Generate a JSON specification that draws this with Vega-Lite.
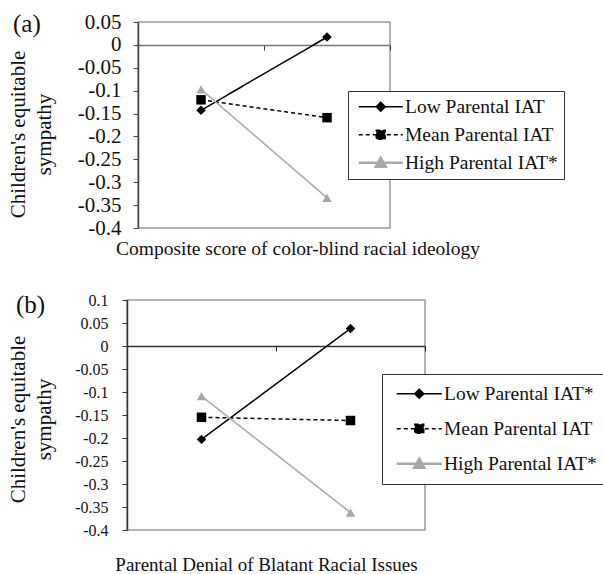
{
  "$schema": "https://vega.github.io/schema/vega-lite/v6.json",
  "padding": {"left": 5, "top": 10, "right": 0, "bottom": 0},
  "background": "white",
  "config": {
    "font": "Liberation Serif",
    "view": {"stroke": "#9a9a9a", "strokeWidth": 1.5},
    "axis": {"labelColor": "#111", "titleColor": "#111", "titleFontWeight": "normal", "grid": false, "labelFont": "Liberation Serif", "titleFont": "Liberation Serif"},
    "style": {"guide-label": {"font": "Liberation Serif"}, "guide-title": {"font": "Liberation Serif"}},
    "title": {"font": "Liberation Serif", "fontWeight": "normal", "color": "#111"}
  },
  "vconcat": [
    {"spacing": 0, "hconcat": [
    {"width": 1, "height": 1, "data": {"values": []}, "mark": {"type": "point", "opacity": 0}, "encoding": {}, "view": {"stroke": null}},
    {
      "title": {"text": "(a)", "fontSize": 25, "anchor": "start", "frame": "group", "dx": -125, "dy": 46, "offset": 0, "baseline": "alphabetic"},
      "width": 252,
      "height": 206,
      "data": {"values": [
        {"series": "Low Parental IAT", "level": "Low", "value": -0.143},
        {"series": "Low Parental IAT", "level": "High", "value": 0.017},
        {"series": "Mean Parental IAT", "level": "Low", "value": -0.12},
        {"series": "Mean Parental IAT", "level": "High", "value": -0.159},
        {"series": "High Parental IAT*", "level": "Low", "value": -0.097},
        {"series": "High Parental IAT*", "level": "High", "value": -0.334}
      ]},
      "encoding": {
        "x": {"field": "level", "type": "nominal", "sort": ["Low", "High"],
          "scale": {"type": "band", "paddingInner": 0, "paddingOuter": 0},
          "axis": {"orient": "bottom", "offset": -183, "labels": false, "ticks": true, "tickBand": "extent", "tickSize": 5, "tickColor": "#333", "domainColor": "#7a7a7a", "domainWidth": 1.5,
            "title": "Composite score of color-blind racial ideology", "titleFont": "Liberation Serif", "titleFontSize": 19.5, "titleX": 159.5, "titleY": 203, "titleBaseline": "middle", "titleAnchor": "middle", "titleAlign": "center"}},
        "y": {"field": "value", "type": "quantitative",
          "scale": {"domain": [-0.4, 0.05], "nice": false, "zero": false},
          "axis": {"values": [-0.4, -0.35, -0.3, -0.25, -0.2, -0.15, -0.1, -0.05, 0, 0.05],
            "labelExpr": "datum.value == 0 ? '0' : (datum.value < 0 ? '-' : '') + format(abs(datum.value), '~g')",
            "labelFont": "Liberation Serif", "labelFontSize": 21, "labelPadding": 12, "tickSize": 5, "tickColor": "#444", "domainColor": "#444", "domainWidth": 1.5,
            "title": ["Children's equitable", "sympathy"], "titleFont": "Liberation Serif", "titleFontSize": 21, "titleLineHeight": 26, "titlePadding": 23, "titleY": 112}}
      },
      "layer": [
        {
          "mark": {"type": "line"},
          "encoding": {
            "color": {"field": "series", "type": "nominal", "scale": {"domain": ["Low Parental IAT", "Mean Parental IAT", "High Parental IAT*"], "range": ["#000000", "#000000", "#a8a8a8"]}, "legend": null},
            "strokeDash": {"field": "series", "type": "nominal", "scale": {"domain": ["Low Parental IAT", "Mean Parental IAT", "High Parental IAT*"], "range": [[1, 0], [4, 3], [1, 0]]}, "legend": null},
            "strokeWidth": {"field": "series", "type": "nominal", "scale": {"domain": ["Low Parental IAT", "Mean Parental IAT", "High Parental IAT*"], "range": [1.5, 1.5, 2.5]}, "legend": null}
          }
        },
        {
          "mark": {"type": "point", "filled": true, "size": 90, "opacity": 1},
          "encoding": {
            "color": {"field": "series", "type": "nominal", "legend": null},
            "shape": {"field": "series", "type": "nominal", "scale": {"domain": ["Low Parental IAT", "Mean Parental IAT", "High Parental IAT*"], "range": ["diamond", "square", "triangle-up"]}, "legend": null}
          }
        },
        {
          "mark": {"type": "point", "filled": true, "opacity": 0},
          "encoding": {
            "shape": {"field": "series", "type": "nominal", "scale": {"domain": ["Low Parental IAT", "Mean Parental IAT", "High Parental IAT*"], "range": ["M-1,0H7.8M3.4,-0.9L4.3,0L3.4,0.9L2.5,0Z", "M-1,0H7.8M2.5,-0.9H4.3V0.9H2.5Z", "M-1,0H7.8M3.4,-1L4.4,0.8H2.4Z"]},
              "legend": {"orient": "none", "legendX": 210, "legendY": 69, "title": null, "padding": 6, "strokeColor": "#333", "fillColor": "white", "labelFontSize": 19.5, "labelColor": "#111", "labelFont": "Liberation Serif", "symbolSize": 100, "rowPadding": 7, "labelOffset": 31.5, "symbolOpacity": 1,
                "encoding": {"symbols": {
                  "fill": {"value": {"expr": "datum.value == 'High Parental IAT*' ? '#a8a8a8' : '#000000'"}},
                  "stroke": {"value": {"expr": "datum.value == 'High Parental IAT*' ? '#a8a8a8' : '#000000'"}},
                  "strokeDash": {"value": {"expr": "datum.value == 'Mean Parental IAT' ? [4, 3] : [1, 0]"}},
                  "strokeWidth": {"value": {"expr": "datum.value == 'High Parental IAT*' ? 2.5 : 1.5"}},
                  "opacity": {"value": 1}, "fillOpacity": {"value": 1}, "strokeOpacity": {"value": 1}}}}}
          }
        }
      ],
      "resolve": {"scale": {"shape": "independent"}}
    }]},
    {"spacing": 0, "hconcat": [
    {"width": 1, "height": 1, "data": {"values": []}, "mark": {"type": "point", "opacity": 0}, "encoding": {}, "view": {"stroke": null}},
    {
      "title": {"text": "(b)", "fontSize": 25, "anchor": "start", "frame": "group", "dx": -111, "dy": 46, "offset": 0, "baseline": "alphabetic"},
      "width": 298,
      "height": 230,
      "data": {"values": [
        {"series": "Low Parental IAT*", "level": "Low", "value": -0.203},
        {"series": "Low Parental IAT*", "level": "High", "value": 0.038},
        {"series": "Mean Parental IAT", "level": "Low", "value": -0.155},
        {"series": "Mean Parental IAT", "level": "High", "value": -0.162},
        {"series": "High Parental IAT*", "level": "Low", "value": -0.109},
        {"series": "High Parental IAT*", "level": "High", "value": -0.362}
      ]},
      "encoding": {
        "x": {"field": "level", "type": "nominal", "sort": ["Low", "High"],
          "scale": {"type": "band", "paddingInner": 0, "paddingOuter": 0},
          "axis": {"orient": "bottom", "offset": -184, "labels": false, "ticks": true, "tickBand": "extent", "tickSize": 5, "tickColor": "#222", "domainColor": "#333", "domainWidth": 1.5,
            "title": "Parental Denial of Blatant Racial Issues", "titleFont": "Liberation Serif", "titleFontSize": 19, "titleX": 139, "titleY": 218, "titleBaseline": "middle", "titleAnchor": "middle", "titleAlign": "center"}},
        "y": {"field": "value", "type": "quantitative",
          "scale": {"domain": [-0.4, 0.1], "nice": false, "zero": false},
          "axis": {"values": [-0.4, -0.35, -0.3, -0.25, -0.2, -0.15, -0.1, -0.05, 0, 0.05, 0.1],
            "labelExpr": "datum.value == 0 ? '0' : (datum.value < 0 ? '-' : '') + format(abs(datum.value), '~g')",
            "labelFont": "Liberation Serif", "labelFontSize": 16, "labelPadding": 14, "tickSize": 5, "tickColor": "#333", "domainColor": "#333", "domainWidth": 1.5,
            "title": ["Children's equitable", "sympathy"], "titleFont": "Liberation Serif", "titleFontSize": 21, "titleLineHeight": 26, "titlePadding": 20, "titleY": 119}}
      },
      "layer": [
        {
          "mark": {"type": "line"},
          "encoding": {
            "color": {"field": "series", "type": "nominal", "scale": {"domain": ["Low Parental IAT*", "Mean Parental IAT", "High Parental IAT*"], "range": ["#000000", "#000000", "#a8a8a8"]}, "legend": null},
            "strokeDash": {"field": "series", "type": "nominal", "scale": {"domain": ["Low Parental IAT*", "Mean Parental IAT", "High Parental IAT*"], "range": [[1, 0], [4, 3], [1, 0]]}, "legend": null},
            "strokeWidth": {"field": "series", "type": "nominal", "scale": {"domain": ["Low Parental IAT*", "Mean Parental IAT", "High Parental IAT*"], "range": [1.5, 1.5, 2.5]}, "legend": null}
          }
        },
        {
          "mark": {"type": "point", "filled": true, "size": 90, "opacity": 1},
          "encoding": {
            "color": {"field": "series", "type": "nominal", "legend": null},
            "shape": {"field": "series", "type": "nominal", "scale": {"domain": ["Low Parental IAT*", "Mean Parental IAT", "High Parental IAT*"], "range": ["diamond", "square", "triangle-up"]}, "legend": null}
          }
        },
        {
          "mark": {"type": "point", "filled": true, "opacity": 0},
          "encoding": {
            "shape": {"field": "series", "type": "nominal", "scale": {"domain": ["Low Parental IAT*", "Mean Parental IAT", "High Parental IAT*"], "range": ["M-1,0H8M3.5,-0.9L4.4,0L3.5,0.9L2.6,0Z", "M-1,0H8M2.6,-0.9H4.4V0.9H2.6Z", "M-1,0H8M3.5,-1L4.5,0.8H2.5Z"]},
              "legend": {"orient": "none", "legendX": 255, "legendY": 74, "title": null, "padding": 10, "strokeColor": "#333", "fillColor": "white", "labelFontSize": 19.5, "labelColor": "#111", "labelFont": "Liberation Serif", "symbolSize": 100, "rowPadding": 14, "labelOffset": 32.5, "symbolOpacity": 1,
                "encoding": {"symbols": {
                  "fill": {"value": {"expr": "datum.value == 'High Parental IAT*' ? '#a8a8a8' : '#000000'"}},
                  "stroke": {"value": {"expr": "datum.value == 'High Parental IAT*' ? '#a8a8a8' : '#000000'"}},
                  "strokeDash": {"value": {"expr": "datum.value == 'Mean Parental IAT' ? [4, 3] : [1, 0]"}},
                  "strokeWidth": {"value": {"expr": "datum.value == 'High Parental IAT*' ? 2.5 : 1.5"}},
                  "opacity": {"value": 1}, "fillOpacity": {"value": 1}, "strokeOpacity": {"value": 1}}}}}
          }
        }
      ],
      "resolve": {"scale": {"shape": "independent"}}
    }]}
  ],
  "spacing": 32
}
